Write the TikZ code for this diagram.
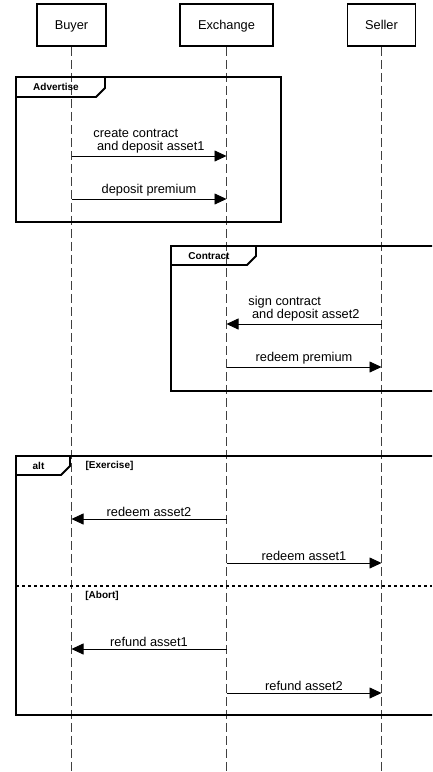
\documentclass[tikz,border=0pt]{standalone}
\usepackage{fontspec}
\setmainfont{Liberation Sans}
\usetikzlibrary{arrows.meta}

\tikzset{
  actor/.style={draw, line width=1.8pt, minimum height=42pt, text depth=0pt, font=\fontsize{12.8}{15}\selectfont},
  lifeline/.style={draw=black!75, line width=1.4pt, dash pattern=on 9pt off 4pt},
  msg/.style={-{Triangle[length=12pt,width=11pt]}, line width=0.8pt},
  msgtext/.style={font=\fontsize{12.8}{13}\selectfont, align=left, inner sep=2pt},
  frame/.style={line width=1.8pt},
  framelabel/.style={font=\bfseries\fontsize{10}{12}\selectfont, inner sep=0pt},
}

\begin{document}
\begin{tikzpicture}[x=1pt,y=-1pt]
    \clip (0,0) rectangle (432,772);
    % participants
    \node[actor, minimum width=69pt] (buyer) at (71.5,25) {Buyer};
    \node[actor, minimum width=93pt] (exch) at (226.5,25) {Exchange};
    \node[actor, minimum width=68pt] (seller) at (381.5,25) {Seller};
    \coordinate (end) at (0,772);
    \draw[lifeline] (buyer) -- (buyer |- end);
    \draw[lifeline] (exch) -- (exch |- end);
    \draw[lifeline] (seller) -- (seller |- end);

    % Advertise
    \draw[frame] (16,77) rectangle (281,222);
    \draw[frame] (16,97) -- (96,97) -- (105,88) -- (105,77);
    \node[framelabel] (adv) at (56,87) {Advertise};
    \coordinate (m1) at (0,156);
    \coordinate (m2) at (0,199);
    \draw[msg] (buyer |- m1) -- (exch |- m1)
        node[msgtext, midway, above] {create contract\\\hspace*{0.28em}and deposit asset1};
    \draw[msg] (buyer |- m2) -- (exch |- m2)
        node[msgtext, midway, above] {deposit premium};

    % Contract
    \draw[frame] (171,246) rectangle (440,391);
    \draw[frame] (171,265) -- (247,265) -- (256,256) -- (256,246);
    \node[framelabel] (con) at (209,256) {Contract};
    \coordinate (m3) at (0,324);
    \coordinate (m4) at (0,367);
    \draw[msg] (seller |- m3) -- (exch |- m3)
        node[msgtext, midway, above] {sign contract\\\hspace*{0.28em}and deposit asset2};
    \draw[msg] (exch |- m4) -- (seller |- m4)
        node[msgtext, midway, above] {redeem premium};

    % alt
    \draw[frame] (16,456) rectangle (440,715);
    \draw[frame] (16,475) -- (61,475) -- (70,466) -- (70,456);
    \node[framelabel] (alt) at (38.5,466) {alt};
    \node[framelabel] (exercise) at (109.5,466) {[Exercise]};
    \draw[line width=1.2pt, dash pattern=on 3pt off 3pt] (16,586) -- (432,586);
    \node[framelabel] (abort) at (102,596) {[Abort]};
    \coordinate (m5) at (0,519);
    \coordinate (m6) at (0,563);
    \coordinate (m7) at (0,649);
    \coordinate (m8) at (0,693);
    \draw[msg] (exch |- m5) -- (buyer |- m5)
        node[msgtext, midway, above] {redeem asset2};
    \draw[msg] (exch |- m6) -- (seller |- m6)
        node[msgtext, midway, above] {redeem asset1};
    \draw[msg] (exch |- m7) -- (buyer |- m7)
        node[msgtext, midway, above] {refund asset1};
    \draw[msg] (exch |- m8) -- (seller |- m8)
        node[msgtext, midway, above] {refund asset2};
\end{tikzpicture}
\end{document}
